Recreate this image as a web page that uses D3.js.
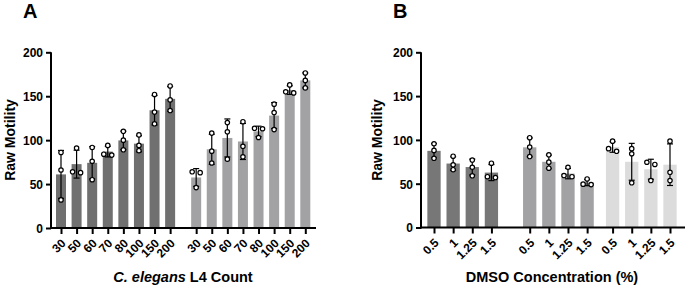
<!DOCTYPE html>
<html><head><meta charset="utf-8">
<script src="https://cdn.jsdelivr.net/npm/d3@7"></script>
<style>
body{margin:0;background:#fff;}
svg text{font-family:"Liberation Sans",Arial,sans-serif;font-weight:bold;fill:#000;}
</style></head>
<body>
<svg id="chart" width="685" height="287"></svg>
<script>
// ---------- DATA ----------
const countLabels = ["30","50","60","70","80","100","150","200"];
const countMeansDark  = [61, 72.7, 74.2, 87, 99.7, 96, 134, 147];
const countPointsDark = [[86,66,32],[91,63,64],[91.7,76,55],[94,83,84],[110,100,89],[106,94,88],[152,132,118.6],[161.7,145.8,133.7]];
const countMeansLight  = [57.5, 89.6, 102.5, 98.5, 110, 128, 157, 168];
const countPointsLight = [[64,63,46],[108,87.5,74],[120,109.5,78.4],[121,93,81],[113,113.5,103],[141,131.4,112],[162.9,153.8,155],[176.5,168,159.5]];

const dmsoLabels = ["0.5","1","1.25","1.5"];
const dmsoMeans1  = [87.5, 73, 69, 62.7];
const dmsoPoints1 = [[95.6,88,79],[81.4,71.5,66],[77,68.8,59],[73.4,57,58]];
const dmsoMeans2  = [91.5, 75, 61.5, 51.3];
const dmsoPoints2 = [[102.5,91.8,81],[83,74.6,67.7],[68.8,59.3,58],[55.4,49,49.5]];
const dmsoMeans3  = [91.9, 75, 66.5, 71.7];
const dmsoPoints3 = [[98.6,87,90],[90,84.2,51],[74.5,72,53.6],[98.6,63,53.6]];

const yTicks = [0,50,100,150,200];

// ---------- HELPERS ----------
const svg = d3.select("#chart");
function sd(a){const m=d3.mean(a);return Math.sqrt(d3.sum(a,v=>(v-m)*(v-m))/(a.length-1));}

function panel(cfg){
  const g = svg.append("g");
  const y = d3.scaleLinear().domain([0,200]).range([cfg.y0, cfg.y200]);
  const x = d3.scaleLinear().domain(cfg.slotDomain).range(cfg.slotRange);
  const bars = [];
  cfg.groups.forEach(grp=>{
    grp.means.forEach((m,i)=>{
      bars.push({slot:grp.offset+i, mean:m, pts:grp.points[i], color:grp.color, label:cfg.labels[i]});
    });
  });
  // bars
  g.selectAll("rect.bar").data(bars).join("rect")
    .attr("x",d=>x(d.slot)-cfg.barW/2).attr("width",cfg.barW)
    .attr("y",d=>y(d.mean)).attr("height",d=>y(0)-y(d.mean))
    .attr("fill",d=>d.color);
  // error bars
  bars.forEach(d=>{
    const s=sd(d.pts), cx=x(d.slot);
    const hi=y(d.mean+s), lo=y(d.mean-s);
    g.append("line").attr("x1",cx).attr("x2",cx).attr("y1",hi).attr("y2",lo).attr("stroke","#000").attr("stroke-width",1.2);
    [hi,lo].forEach(yy=>g.append("line").attr("x1",cx-3).attr("x2",cx+3).attr("y1",yy).attr("y2",yy).attr("stroke","#000").attr("stroke-width",1.2));
  });
  // points with simple horizontal spreading
  bars.forEach(d=>{
    const cx=x(d.slot);
    const ps=d.pts.map(v=>({v,py:y(v)})).sort((a,b)=>a.py-b.py);
    const clusters=[];
    ps.forEach(p=>{
      const last=clusters[clusters.length-1];
      if(last && p.py-last[last.length-1].py<4) last.push(p); else clusters.push([p]);
    });
    clusters.forEach(c=>{
      c.forEach((p,k)=>{
        const off = c.length===1?0:(k-(c.length-1)/2)*(8/(c.length-1))*(c.length===2?1:1.2);
        g.append("circle").attr("cx",cx+off).attr("cy",p.py).attr("r",2.2)
          .attr("fill","#fff").attr("stroke","#000").attr("stroke-width",1.2);
      });
    });
  });
  // y axis
  const ya = g.append("g").attr("transform",`translate(${cfg.axisX},0)`)
    .call(d3.axisLeft(y).tickValues(yTicks).tickSize(5).tickSizeOuter(0).tickPadding(3));
  ya.select(".domain").attr("stroke-width",2).attr("d",`M0,${cfg.y0+1}V${cfg.y200}`);
  ya.selectAll(".tick line").attr("stroke-width",2);
  ya.selectAll(".tick text").style("font-size","12px").attr("dy","0.36em");
  // x axis
  const xa = g.append("g").attr("transform",`translate(0,${cfg.y0})`)
    .call(d3.axisBottom(x).tickValues(bars.map(b=>b.slot)).tickFormat((v,i)=>bars[i].label).tickSize(6).tickSizeOuter(0));
  xa.select(".domain").attr("stroke-width",2).attr("d",`M${cfg.axisX-1},0H${cfg.axisEnd}`);
  xa.selectAll(".tick line").attr("stroke-width",2);
  xa.selectAll(".tick text").style("font-size","12px")
    .attr("text-anchor","end").attr("dy",null).attr("y",null)
    .attr("transform","translate(5,16) rotate(-45)");
  // y label
  g.append("text").attr("transform",`translate(${cfg.yLabelX},140) rotate(-90)`)
    .attr("text-anchor","middle").attr("dy","0.35em").style("font-size","14px").text("Raw Motility");
  // panel letter
  g.append("text").attr("x",cfg.letterX).attr("y",17.5).style("font-size","20px").text(cfg.letter);
  return g;
}

// Panel A
const gA = panel({
  letter:"A", letterX:23, y0:228, y200:52.3, axisX:51, axisEnd:316, yLabelX:10,
  slotDomain:[0,15.67], slotRange:[61,305.3], barW:10, labels:countLabels,
  groups:[
    {offset:0, means:countMeansDark, points:countPointsDark, color:"#707070"},
    {offset:8.67, means:countMeansLight, points:countPointsLight, color:"#a2a2a5"}
  ]
});
gA.append("text").attr("x",183).attr("y",282).attr("text-anchor","middle").style("font-size","14.5px")
  .call(t=>{t.append("tspan").style("font-style","italic").text("C. elegans");t.append("tspan").text(" L4 Count");});

// Panel B
const gB = panel({
  letter:"B", letterX:393, y0:227.5, y200:52.3, axisX:421, axisEnd:690, yLabelX:377,
  slotDomain:[0,12.33], slotRange:[434,670], barW:13.3, labels:dmsoLabels,
  groups:[
    {offset:0, means:dmsoMeans1, points:dmsoPoints1, color:"#777777"},
    {offset:5, means:dmsoMeans2, points:dmsoPoints2, color:"#a2a2a5"},
    {offset:9.33, means:dmsoMeans3, points:dmsoPoints3, color:"#dcdcdc"}
  ]
});
gB.append("text").attr("x",552).attr("y",282).attr("text-anchor","middle").style("font-size","14.5px")
  .text("DMSO Concentration (%)");
</script>
</body></html>
